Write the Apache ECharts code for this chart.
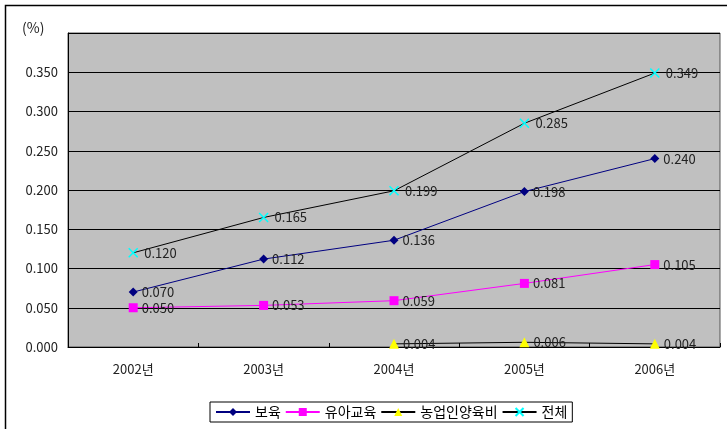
<!DOCTYPE html>
<html>
<head>
<meta charset="utf-8">
<script src="https://cdn.jsdelivr.net/npm/echarts@6/dist/echarts.min.js"></script>
<style>
  html, body { margin: 0; padding: 0; background: #fff; }
  #chart { width: 727px; height: 429px; }
</style>
</head>
<body>
<div id="chart"></div>
<script>
const categories = ['2002년', '2003년', '2004년', '2005년', '2006년'];
const childcare = [0.070, 0.112, 0.136, 0.198, 0.240];
const earlyEducation = [0.050, 0.053, 0.059, 0.081, 0.105];
const farmerSupport = [null, null, 0.004, 0.006, 0.004];
const total = [0.120, 0.165, 0.199, 0.285, 0.349];
const seriesNames = ['보육', '유아교육', '농업인양육비', '전체'];

const FONT = '"Noto Sans CJK KR", "Liberation Sans", sans-serif';

const labelStyle = {
  show: true,
  position: 'right',
  distance: 4,
  color: '#222',
  fontSize: 13,
  fontFamily: FONT,
  formatter: p => p.value == null ? '' : Number(p.value).toFixed(3)
};

function lineSeries(name, data, lineColor, symbol, symbolSize, markerColor) {
  return {
    name: name,
    type: 'line',
    data: data,
    symbol: symbol,
    symbolSize: symbolSize,
    showAllSymbol: true,
    connectNulls: false,
    lineStyle: { color: lineColor, width: 1 },
    itemStyle: { color: markerColor, borderWidth: 0 },
    label: labelStyle,
    emphasis: { disabled: true },
    z: 3
  };
}

const crossPath = 'path://M0,0 L10,10 M10,0 L0,10';

const chart = echarts.init(document.getElementById('chart'), null, { renderer: 'canvas' });
chart.setOption({
  animation: false,
  backgroundColor: '#fff',
  textStyle: { fontFamily: FONT },
  grid: {
    left: 68, right: 7, top: 33, bottom: 82, containLabel: false,
    show: true, backgroundColor: '#c0c0c0', borderColor: '#555', borderWidth: 1
  },
  graphic: [
    {
      // frame around the whole chart (runs off the right and bottom edges)
      type: 'rect',
      shape: { x: 5.5, y: 5.5, width: 740, height: 440 },
      style: { fill: 'none', stroke: '#000', lineWidth: 1.5 },
      z: -1
    },
    {
      type: 'text',
      left: 22, top: 21,
      style: { text: '(%)', fontSize: 14, fill: '#222', fontFamily: FONT }
    }
  ],
  xAxis: {
    type: 'category',
    data: categories,
    boundaryGap: true,
    axisLine: { lineStyle: { color: '#000', width: 1 } },
    axisTick: { show: true, inside: true, length: 4, lineStyle: { color: '#000' } },
    axisLabel: { color: '#222', fontSize: 13, margin: 16, fontFamily: FONT },
    splitLine: { show: false }
  },
  yAxis: {
    type: 'value',
    min: 0,
    max: 0.4,
    interval: 0.05,
    axisLine: { show: true, lineStyle: { color: '#000', width: 1 } },
    axisTick: { show: true, inside: true, length: 4, lineStyle: { color: '#000' } },
    axisLabel: {
      color: '#222', fontSize: 13, margin: 10, fontFamily: FONT,
      formatter: v => v >= 0.399 ? '' : v.toFixed(3)
    },
    splitLine: { show: true, lineStyle: { color: '#000', width: 1 } }
  },
  legend: {
    bottom: 7,
    left: 210,
    data: seriesNames,
    itemWidth: 34,
    itemHeight: 10,
    itemGap: 4,
    padding: [3, 5],
    borderColor: '#000',
    borderWidth: 1,
    textStyle: { color: '#000', fontSize: 14, fontFamily: FONT }
  },
  series: [
    lineSeries(seriesNames[0], childcare, '#000080', 'diamond', 9, '#000080'),
    lineSeries(seriesNames[1], earlyEducation, '#ff00ff', 'rect', 9, '#ff00ff'),
    lineSeries(seriesNames[2], farmerSupport, '#000', 'triangle', 10, '#ffff00'),
    Object.assign(lineSeries(seriesNames[3], total, '#000', crossPath, 9, '#00ffff'), {
      itemStyle: { color: 'none', borderColor: '#00ffff', borderWidth: 1.5 }
    })
  ]
});
</script>
</body>
</html>
